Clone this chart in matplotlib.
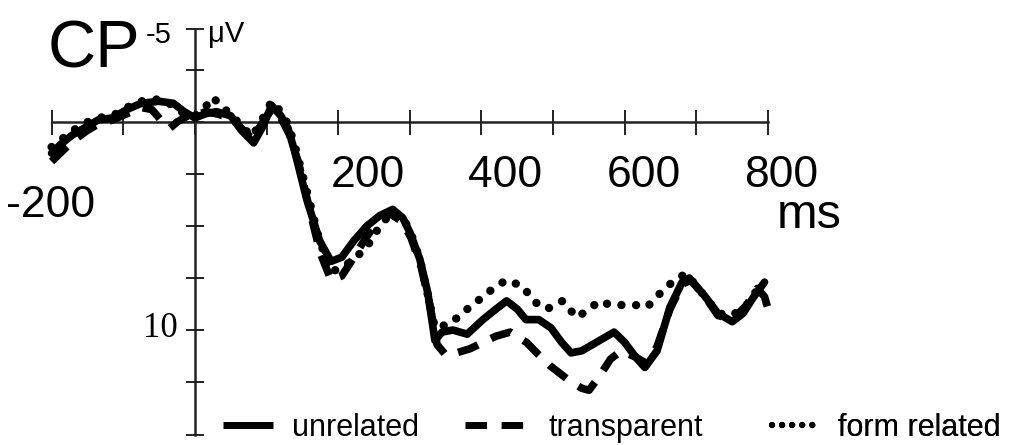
import matplotlib
matplotlib.use("Agg")
import matplotlib.pyplot as plt
from matplotlib.lines import Line2D

plt.rcParams['font.family'] = ['Liberation Sans', 'DejaVu Sans']

# ERP at CP, three priming conditions (time in ms, amplitude in microvolts, negative up)
t_unrel = [-200, -185, -170, -150, -135, -115, -95, -75, -50, -30, -15, 0, 15, 30, 50, 65,
           82, 95, 107, 120, 130, 140, 156, 174, 190, 205, 222, 240, 258, 276, 290, 300,
           314, 325, 335, 345, 360, 380, 402, 420, 435, 450, 462, 480, 497, 512, 525, 540,
           555, 570, 585, 600, 615, 628, 645, 663, 680, 690, 710, 730, 750, 765, 780, 795]
v_unrel = [1.5, 1.0, 0.6, 0.2, -0.1, -0.2, -0.6, -0.9, -1.0, -0.9, -0.5, -0.2, -0.4, -0.5, -0.3, 0.4,
           1.0, 0.2, -0.8, -0.3, 0.3, 1.5, 3.7, 5.7, 6.7, 6.5, 5.7, 5.0, 4.5, 4.2, 4.6, 5.3,
           6.6, 8.2, 10.5, 10.1, 10.0, 10.2, 9.5, 9.0, 8.6, 9.0, 9.5, 9.5, 9.9, 10.6, 11.1, 11.0,
           10.7, 10.4, 10.1, 10.6, 11.3, 11.8, 11.0, 8.9, 7.7, 7.5, 8.3, 9.2, 9.6, 9.2, 8.4, 7.7]

t_transp = [-200, -185, -170, -150, -135, -115, -95, -75, -60, -45, -35, -25, -10, 0, 15, 30,
            50, 65, 80, 95, 107, 120, 132, 145, 160, 175, 190, 205, 220, 238, 255, 272,
            290, 302, 316, 328, 338, 350, 365, 384, 402, 420, 440, 463, 480, 495, 510, 525,
            540, 550, 565, 580, 595, 615, 630, 645, 663, 680, 692, 712, 730, 750, 770, 785,
            795, 800]
v_transp = [1.9, 1.4, 0.9, 0.4, 0.1, -0.1, -0.4, -0.7, -0.6, 0.0, 0.3, 0.0, -0.3, -0.3, -0.5, -0.4,
            -0.2, 0.3, 0.8, 0.0, -0.6, -0.2, 0.6, 2.0, 4.2, 6.3, 7.6, 7.4, 6.6, 5.6, 4.8, 4.4,
            4.8, 5.6, 7.0, 8.8, 10.7, 11.2, 11.1, 10.9, 10.6, 10.3, 10.1, 10.6, 11.2, 11.7, 12.1, 12.5,
            12.8, 12.9, 12.2, 11.4, 11.0, 11.3, 11.6, 10.8, 9.0, 7.8, 7.6, 8.4, 9.3, 9.5, 8.8, 8.0,
            8.4, 9.0]

t_form = [-200, -185, -170, -150, -135, -115, -95, -75, -50, -30, -15, 0, 12, 25, 38, 50,
          65, 80, 95, 107, 120, 130, 140, 156, 174, 190, 205, 222, 240, 258, 276, 290,
          300, 314, 325, 335, 356, 380, 402, 420, 435, 458, 472, 491, 513, 533, 550, 565,
          580, 597, 615, 631, 653, 673, 686, 705, 730, 750, 770, 790]
v_form = [1.2, 0.8, 0.4, 0.0, -0.2, -0.3, -0.7, -1.0, -1.1, -0.8, -0.4, -0.3, -0.6, -1.2, -0.7, -0.4,
          0.2, 0.7, -0.2, -1.0, -0.5, 0.1, 1.2, 3.3, 5.7, 7.2, 7.0, 6.6, 6.0, 5.0, 4.3, 4.6,
          5.2, 6.6, 8.3, 9.9, 9.7, 9.0, 8.4, 7.9, 7.6, 7.9, 8.6, 9.0, 8.6, 9.4, 9.0, 8.6,
          8.8, 8.8, 8.8, 8.9, 8.1, 7.5, 7.3, 8.1, 9.2, 9.3, 8.8, 7.8]

labels = ['unrelated', 'transparent', 'form related']
x_ticks = list(range(-200, 801, 100))
y_ticks = [-4.47, -2.5, 0, 2.5, 5, 7.5, 10, 12.5, 15.05]
x_tick_text = [(-202, 4.57, '-200'), (241, 3.13, '200'), (433, 3.13, '400'),
               (627, 3.13, '600'), (818, 3.13, '800')]

fig = plt.figure(figsize=(10.11, 4.45), dpi=100)
ax = fig.add_axes([0, 0, 1, 1])
ax.set_xlim(-272, 1139)
ax.set_ylim(15.53, -5.87)

ax.plot(t_unrel, v_unrel, color='black', lw=5.5, solid_capstyle='round',
        solid_joinstyle='round', zorder=3)
ax.plot(t_transp, v_transp, color='black', lw=5.5, dashes=(2.8, 1.9),
        dash_capstyle='butt', zorder=3)
ax.plot(t_form, v_form, color='black', lw=6, dashes=(0.01, 1.75),
        dash_capstyle='round', zorder=3)

# axes crossing at the origin
for side in ['top', 'right']:
    ax.spines[side].set_visible(False)
ax.spines['left'].set_position(('data', 0))
ax.spines['bottom'].set_position(('data', 0))
ax.spines['left'].set_bounds(-4.47, 15.05)
ax.spines['bottom'].set_bounds(-200, 800)
for side in ['left', 'bottom']:
    ax.spines[side].set_linewidth(1.8)
    ax.spines[side].set_color('#222222')
ax.set_xticks(x_ticks)
ax.set_yticks(y_ticks)
ax.tick_params(axis='x', direction='inout', length=18, width=1.4, color='#222222',
               labelbottom=False)
ax.tick_params(axis='y', direction='inout', length=13, width=1.4, color='#222222',
               labelleft=False)

for x, y, s in x_tick_text:
    ax.text(x, y, s, fontsize=32, ha='center', va='baseline')
ax.text(858, 5.1, 'ms', fontsize=35, ha='center', va='baseline')
ax.text(-206, -2.6, 'CP', fontsize=48, ha='left', va='baseline')
ax.text(-68, -3.8, '-5', fontsize=21, ha='left', va='baseline')
ax.text(18, -3.85, 'μV', fontsize=21, ha='left', va='baseline')
ax.text(-24, 10.34, '10', fontsize=25, ha='right', va='baseline', family='Liberation Serif')

# legend entries, each placed where it sits in the figure
handles = [Line2D([], [], color='black', lw=5, solid_capstyle='butt'),
           Line2D([], [], color='black', lw=5, dashes=(3.1, 2.1), dash_capstyle='butt'),
           Line2D([], [], color='black', lw=4.5, dashes=(0.01, 1.6), dash_capstyle='round')]
W, H = 1011, 445
specs = [(223, 1.64, 0.62), (465, 1.97, 0.75), (772, 1.57, 0.59)]
for h, lab, (x0, hl, pad) in zip(handles, labels, specs):
    leg = ax.legend([h], [lab], loc='center left', bbox_to_anchor=(x0 / W, 17 / H),
                    bbox_transform=fig.transFigure, frameon=False, fontsize=22,
                    handlelength=hl, handletextpad=pad, borderpad=0, borderaxespad=0)
    ax.add_artist(leg)

fig.savefig('out.png', dpi=100)
